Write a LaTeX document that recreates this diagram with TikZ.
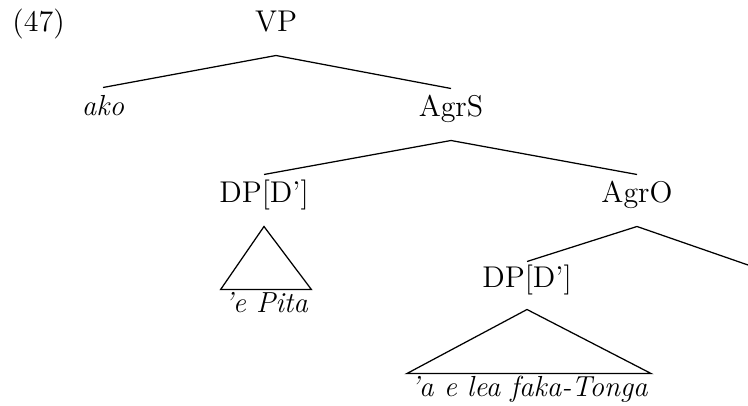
\documentclass[tikz,border=0pt]{standalone}
\usepackage{fontspec}
\begin{document}
\begin{tikzpicture}[x=0.4pt,y=-0.4pt,
  every node/.style={font=\fontsize{12}{14}\selectfont},
  tn/.style={anchor=base, text height=2pt, text depth=0pt, inner xsep=0pt, inner ysep=9.2pt},
  leaf/.style={anchor=base, text height=9.2pt, text depth=0pt, inner xsep=1.2pt, inner ysep=0pt, font=\fontsize{11.6}{14}\selectfont\itshape},
  br/.style={line width=0.5pt, line join=miter}]
\useasboundingbox (0,0) rectangle (748,406);
\node[anchor=base west, inner sep=0pt] (ex) at (12,32) {(47)};
\node[tn] (VP) at (276,32) {VP};
\node[tn, font=\fontsize{11.6}{14}\selectfont\itshape] (ako) at (103,116) {ako};
\node[tn] (AgrS) at (451,117) {AgrS};
\node[tn] (DPa) at (264,203) {DP[D']};
\node[tn] (AgrO) at (637,203) {AgrO};
\node[tn, inner ysep=8.4pt] (DPb) at (527,288) {DP[D']};
\node[leaf] (pita) at (266,313) {'e Pita};
\node[leaf] (tonga) at (529,397) {'a e lea faka-Tonga};
\coordinate (AgrOR) at (748,265);
\draw[br] (ako.north) -- (VP.south) -- (AgrS.north);
\draw[br] (DPa.north) -- (AgrS.south) -- (AgrO.north);
\draw[br] (DPb.north) -- (AgrO.south) -- (AgrOR);
\draw[br] (DPa.south) -- (pita.north west) -- (pita.north east) -- cycle;
\draw[br] (DPb.south) -- (tonga.north west) -- (tonga.north east) -- cycle;
\end{tikzpicture}
\end{document}
